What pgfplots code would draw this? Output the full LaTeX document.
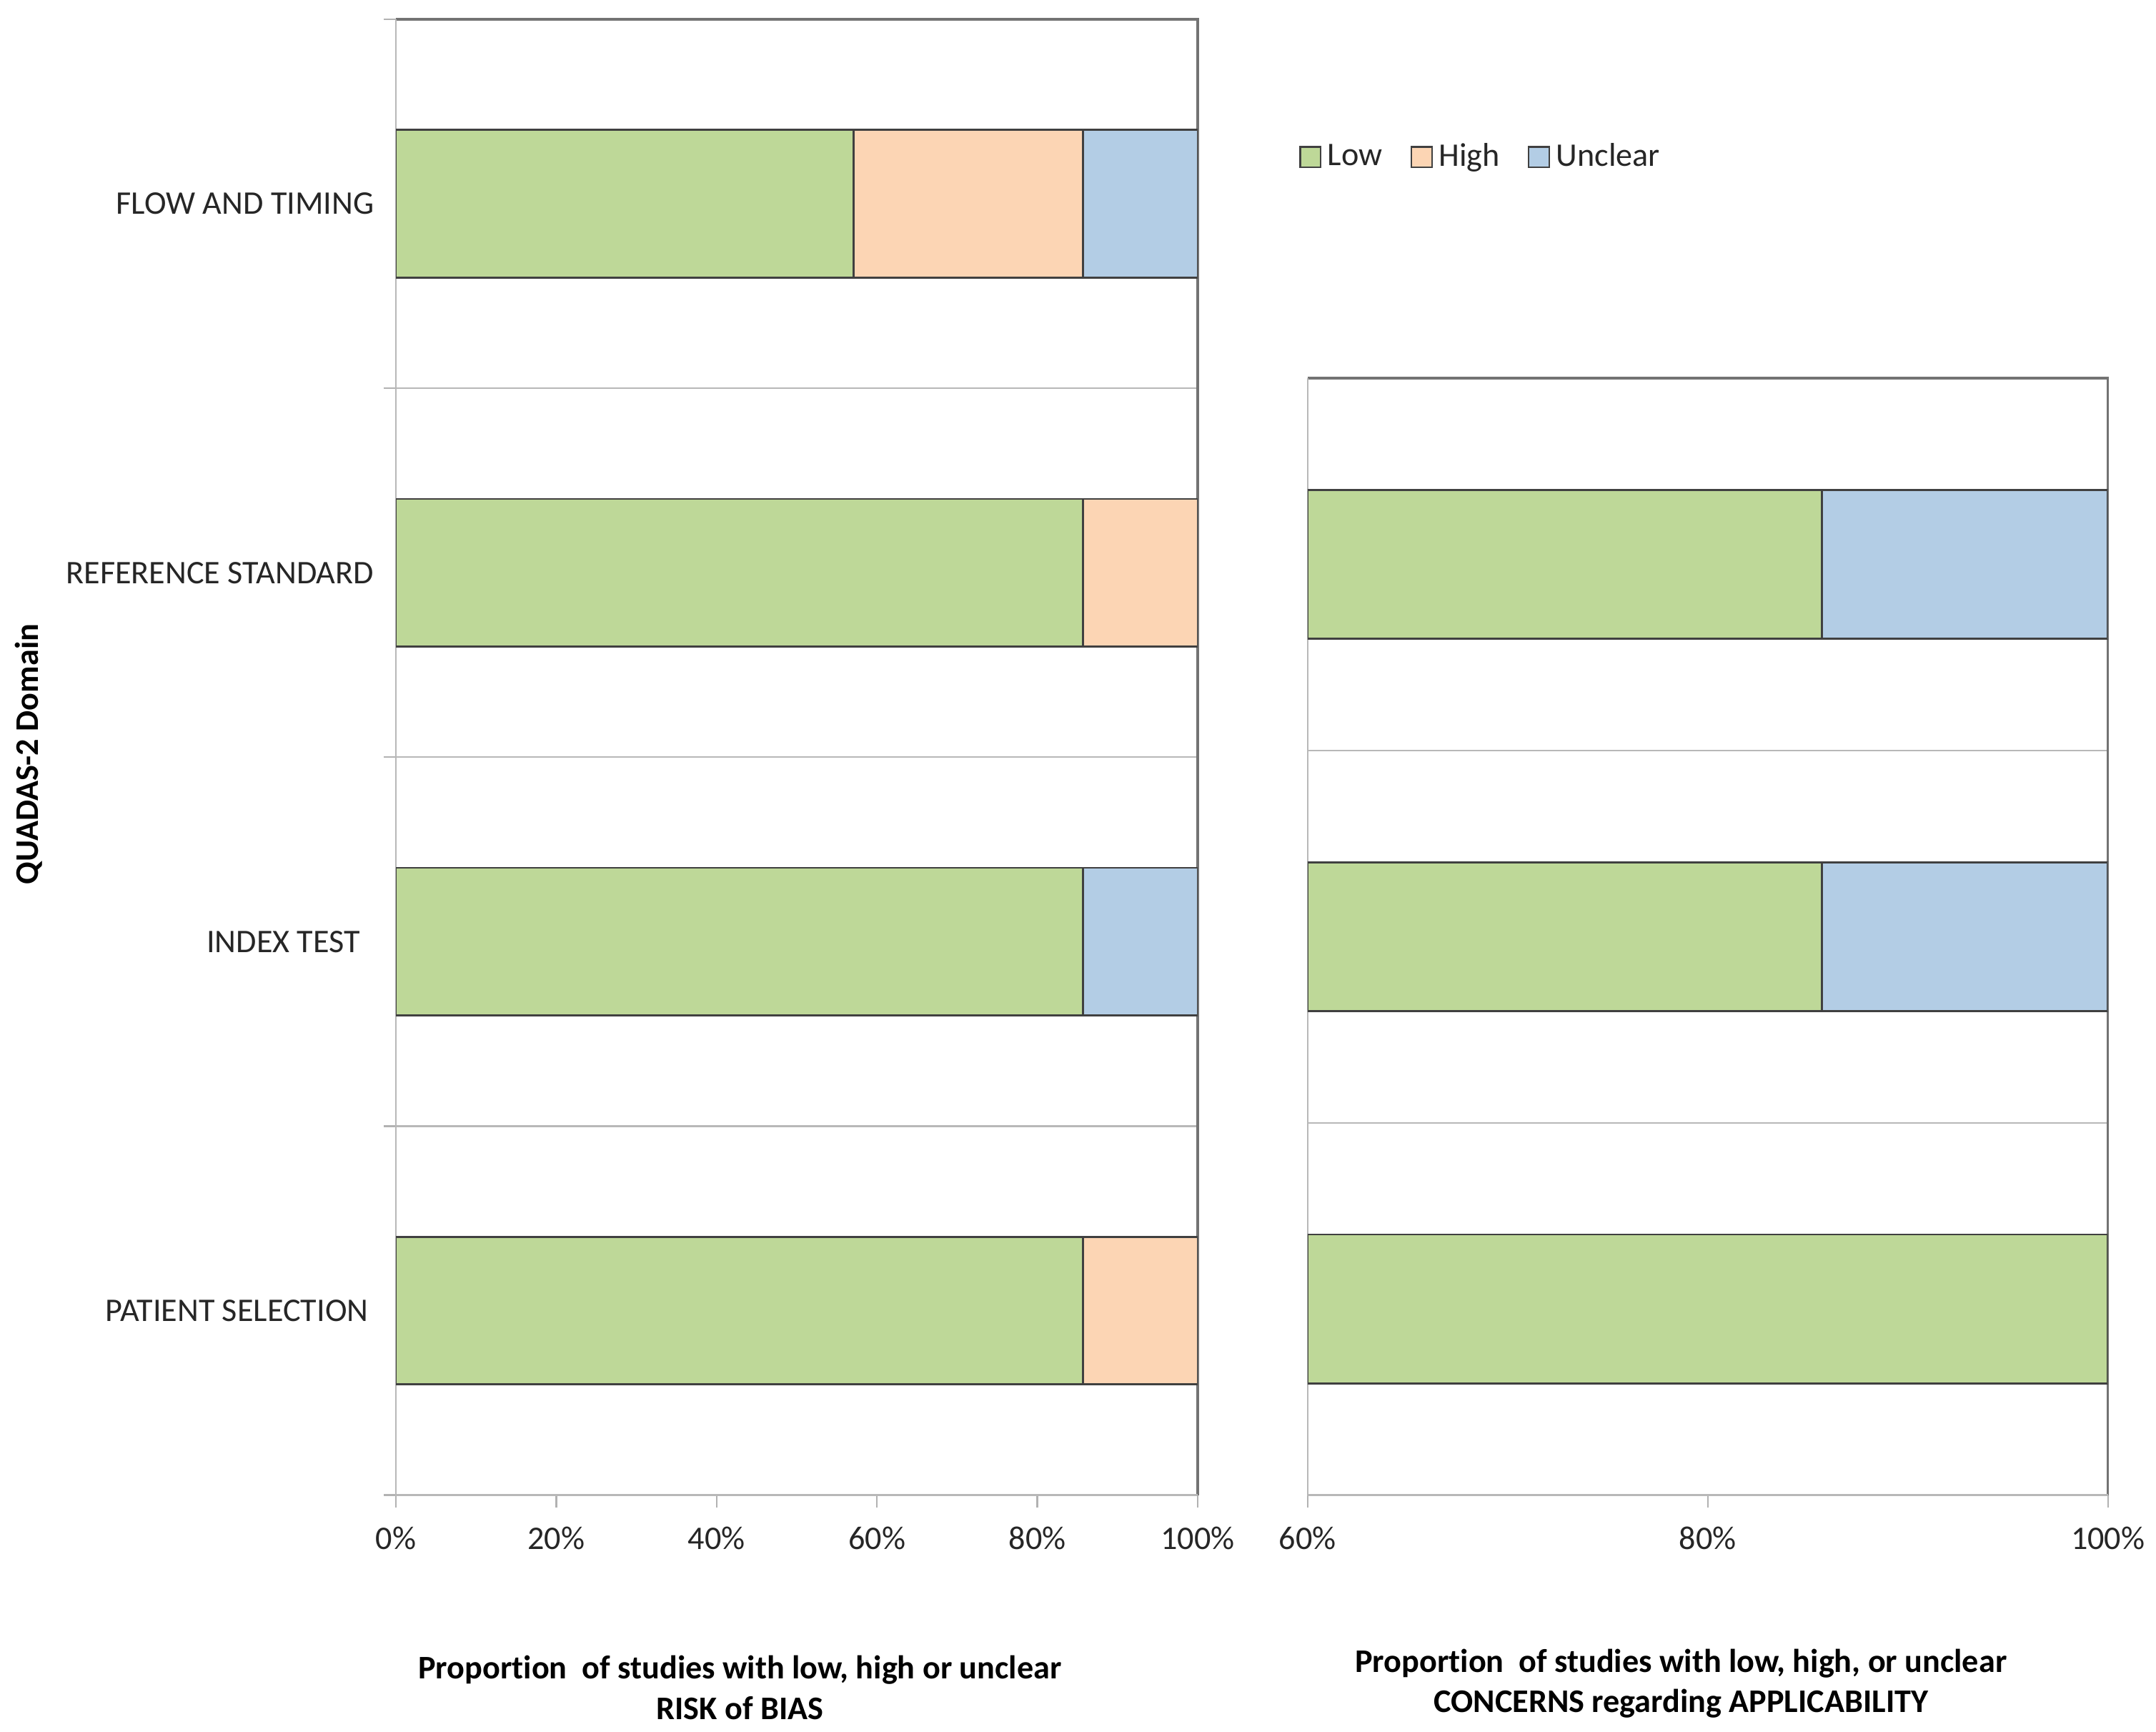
\documentclass[border=0pt]{standalone}
\usepackage{fontspec}
\setmainfont{Carlito}[Ligatures={NoCommon,NoContextual}]
\usepackage{pgfplots}
\usepackage{pgfplotstable}
\pgfplotsset{compat=1.18}
\definecolor{lowc}{HTML}{BED898}
\definecolor{highc}{HTML}{FCD5B4}
\definecolor{uncc}{HTML}{B3CDE5}
\definecolor{barline}{HTML}{404040}

\pgfplotstableread{
y low high unclear
0 85.7 14.3 0
1 85.7 0 14.3
2 85.7 14.3 0
3 57.1 28.6 14.3
}\leftdata

\pgfplotstableread{
y low high unclear
0 100 0 0
1 85.7 0 14.3
2 85.7 0 14.3
}\rightdata

\tikzset{lab/.style={font=\bfseries\fontsize{12}{14}\selectfont, anchor=base, inner sep=0.5pt}}

\pgfplotsset{
  common/.style={
    scale only axis,
    xbar stacked,
    bar width=0.4,
    clip mode=individual,
    axis line style={draw=none},
    tick align=outside,
    major tick length=4.5pt,
    tick style={black!30, line width=0.6pt},
    xtick pos=bottom, ytick pos=left,
    ymajorgrids,
    major grid style={black!28, line width=0.6pt},
    tick label style={font=\fontsize{12}{14.4}\selectfont, text=black!85},
    /pgf/number format/assume math mode=true,
    xticklabel={\pgfmathprintnumber{\tick}\%},
    xticklabel style={yshift=-3.5pt},
    yticklabels={},
  },
}

\begin{document}
\begin{tikzpicture}
\useasboundingbox (0,0) rectangle (784pt,-629.4pt);

% Left: risk of bias
\begin{axis}[common,
  at={(144pt,-543.5pt)}, anchor=south west,
  width=291.5pt, height=536.5pt,
  xmin=0, xmax=100, xtick={0,20,40,60,80,100},
  ymin=-0.5, ymax=3.5, ytick={-0.5,0.5,1.5,2.5,3.5},
  extra y ticks={0,1,2,3},
  extra y tick labels={PATIENT SELECTION\hspace*{2pt},INDEX TEST\hspace*{5pt},REFERENCE STANDARD,FLOW AND TIMING},
  extra y tick style={major tick length=0pt, grid=none, tick style={draw=none}, yticklabel style={xshift=-4.5pt}},
  ylabel={QUADAS-2 Domain},
  ylabel style={at={(axis description cs:-0.458,0.502)}, anchor=center, font=\bfseries\fontsize{12}{14}\selectfont},
  xlabel={Proportion\ \ of studies with low, high or unclear},
  xlabel style={at={(axis description cs:0.429,-0.1245)}, lab},
]
\addplot[fill=lowc, draw=barline, line width=0.7pt] table[x=low, y=y]{\leftdata};
\addplot[fill=highc, draw=barline, line width=0.7pt] table[x=high, y=y]{\leftdata};
\addplot[fill=uncc, draw=barline, line width=0.7pt] table[x=unclear, y=y]{\leftdata};
\draw[black!28, line width=0.7pt] (rel axis cs:0,1) -- (rel axis cs:0,0) -- (rel axis cs:1,0);
\draw[black!55, line width=0.9pt] (rel axis cs:0,1) -- (rel axis cs:1,1) -- (rel axis cs:1,0);
\node[lab] at (axis description cs:0.429,-0.1521) {RISK of BIAS};
\end{axis}

% Right: applicability
\begin{axis}[common,
  at={(475.5pt,-543.5pt)}, anchor=south west,
  width=291pt, height=406pt,
  xmin=60, xmax=100, xtick={60,80,100},
  ymin=-0.5, ymax=2.5, ytick={-0.5,0.5,1.5,2.5},
  ytick style={draw=none},
  xlabel={Proportion\ \ of studies with low, high, or unclear},
  xlabel style={at={(axis description cs:0.4665,-0.1589)}, lab},
  legend columns=3,
  legend style={at={(axis description cs:-0.0103,1.198)}, anchor=west, draw=none, fill=none,
    inner sep=0pt, outer sep=0pt, font=\fontsize{12}{14.4}\selectfont, text=black!85,
    /tikz/every even column/.append style={column sep=8pt},
    nodes={inner sep=2.2pt}},
  legend image code/.code={\draw[#1, draw=black!75, line width=0.6pt] (0pt,-3.75pt) rectangle (7.5pt,3.75pt);},
]
\addplot[fill=lowc, draw=barline, line width=0.7pt] table[x=low, y=y]{\rightdata};
\addlegendentry{Low}
\addplot[fill=highc, draw=barline, line width=0.7pt] table[x=high, y=y]{\rightdata};
\addlegendentry{High}
\addplot[fill=uncc, draw=barline, line width=0.7pt] table[x=unclear, y=y]{\rightdata};
\addlegendentry{Unclear}
\draw[black!28, line width=0.7pt] (rel axis cs:0,1) -- (rel axis cs:0,0) -- (rel axis cs:1,0);
\draw[black!55, line width=0.9pt] (rel axis cs:0,1) -- (rel axis cs:1,1) -- (rel axis cs:1,0);
\node[lab] at (axis description cs:0.4665,-0.1946) {CONCERNS regarding APPLICABILITY};
\end{axis}
\end{tikzpicture}
\end{document}
